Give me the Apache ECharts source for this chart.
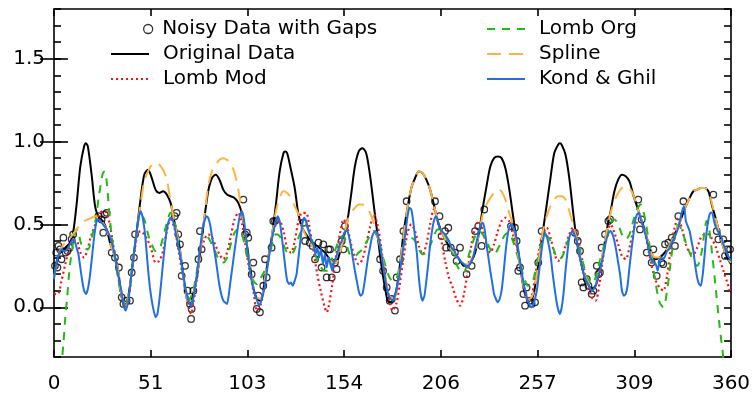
<!DOCTYPE html>
<html><head><meta charset="utf-8">
<script src="https://cdn.jsdelivr.net/npm/echarts@6/dist/echarts.min.js"></script>
<style>html,body{margin:0;padding:0;background:#fff}#c{width:756px;height:396px}</style>
</head><body><div id="c"></div>
<script>
// ---- data ----
const xTickLabels = ['0','51','103','154','206','257','309','360'];
const yTickLabels = ['0.0','0.5','1.0','1.5'];
const seriesNames = ['Noisy Data with Gaps','Original Data','Lomb Mod','Lomb Org','Spline','Kond & Ghil'];

const originalData = [[0,0.2],[2,0.30],[4,0.34],[6,0.36],[8,0.38],[10,0.44],[12,0.62],[14,0.85],[16,0.97],[17,0.99],[18,0.97],[20,0.80],[22,0.60],[24,0.54],[26,0.52],[28,0.47],[30,0.38],[32,0.32],[34,0.23],[36,0.06],[38,-0.01],[40,0.10],[42,0.28],[44,0.46],[46,0.65],[48,0.80],[50,0.83],[52,0.78],[54,0.71],[56,0.69],[58,0.70],[60,0.68],[62,0.63],[64,0.52],[66,0.42],[68,0.26],[70,0.09],[72,0.02],[74,0.08],[76,0.18],[78,0.36],[80,0.54],[82,0.70],[84,0.78],[86,0.80],[88,0.77],[90,0.71],[92,0.68],[94,0.67],[96,0.66],[98,0.63],[100,0.56],[102,0.42],[104,0.27],[106,0.12],[108,0.05],[110,0.04],[112,0.16],[114,0.30],[116,0.44],[118,0.62],[120,0.82],[122,0.93],[123,0.94],[124,0.93],[126,0.83],[128,0.72],[130,0.56],[132,0.48],[134,0.44],[136,0.41],[138,0.38],[140,0.37],[142,0.35],[144,0.33],[146,0.30],[148,0.27],[150,0.27],[152,0.33],[154,0.42],[156,0.52],[158,0.68],[160,0.85],[162,0.94],[164,0.96],[166,0.93],[168,0.80],[170,0.62],[172,0.44],[174,0.26],[176,0.12],[178,0.03],[180,0.04],[182,0.10],[184,0.26],[186,0.46],[188,0.60],[190,0.72],[192,0.78],[194,0.82],[196,0.81],[198,0.77],[200,0.71],[202,0.62],[204,0.52],[206,0.46],[208,0.41],[210,0.37],[212,0.34],[214,0.31],[216,0.28],[218,0.25],[220,0.25],[222,0.28],[224,0.33],[226,0.45],[228,0.60],[230,0.73],[232,0.85],[234,0.90],[236,0.91],[238,0.90],[240,0.84],[242,0.72],[244,0.56],[246,0.40],[248,0.24],[250,0.10],[252,0.05],[254,0.05],[256,0.14],[258,0.30],[260,0.46],[262,0.62],[264,0.78],[266,0.93],[268,0.98],[269,0.99],[270,0.98],[272,0.92],[274,0.78],[276,0.58],[278,0.40],[280,0.28],[282,0.19],[284,0.14],[286,0.11],[288,0.13],[290,0.21],[292,0.33],[294,0.47],[296,0.58],[298,0.70],[300,0.77],[302,0.80],[304,0.79],[306,0.76],[308,0.68],[310,0.61],[312,0.54],[314,0.47],[316,0.39],[318,0.32],[320,0.29],[322,0.30],[324,0.32],[326,0.35],[328,0.39],[330,0.44],[332,0.49],[334,0.55],[336,0.61],[338,0.66],[340,0.70],[342,0.71],[344,0.72],[346,0.72],[348,0.70],[350,0.61],[352,0.53],[354,0.44],[356,0.36],[358,0.30],[360,0.26]];

const splineData = [[0,0.18],[2,0.30],[4,0.36],[6,0.39],[8,0.41],[10,0.44],[12,0.47],[14,0.50],[16,0.52],[18,0.53],[20,0.54],[22,0.55],[24,0.54],[26,0.51],[28,0.47],[30,0.38],[32,0.32],[34,0.23],[36,0.07],[38,0.0],[40,0.10],[42,0.28],[44,0.46],[46,0.62],[48,0.76],[50,0.82],[52,0.86],[54,0.87],[56,0.86],[58,0.83],[60,0.77],[62,0.64],[64,0.52],[66,0.41],[68,0.26],[70,0.09],[72,0.03],[74,0.08],[76,0.18],[78,0.36],[80,0.55],[82,0.73],[84,0.82],[86,0.86],[88,0.89],[90,0.90],[92,0.89],[94,0.87],[96,0.81],[98,0.71],[100,0.57],[102,0.42],[104,0.27],[106,0.12],[108,0.06],[110,0.05],[112,0.16],[114,0.30],[116,0.44],[118,0.58],[120,0.66],[122,0.70],[124,0.69],[126,0.66],[128,0.61],[130,0.56],[132,0.48],[134,0.43],[136,0.39],[138,0.36],[140,0.34],[142,0.32],[144,0.30],[146,0.29],[148,0.27],[150,0.27],[152,0.33],[154,0.42],[156,0.52],[158,0.57],[160,0.60],[162,0.62],[164,0.62],[166,0.61],[168,0.57],[170,0.51],[172,0.43],[174,0.34],[176,0.20],[178,0.08],[180,0.05],[182,0.08],[184,0.25],[186,0.45],[188,0.60],[190,0.72],[192,0.78],[194,0.82],[196,0.81],[198,0.77],[200,0.71],[202,0.62],[204,0.52],[206,0.46],[208,0.41],[210,0.37],[212,0.34],[214,0.31],[216,0.28],[218,0.26],[220,0.26],[222,0.29],[224,0.34],[226,0.45],[228,0.56],[230,0.62],[232,0.66],[234,0.69],[236,0.71],[238,0.70],[240,0.65],[242,0.57],[244,0.50],[246,0.38],[248,0.24],[250,0.11],[252,0.05],[254,0.06],[256,0.14],[258,0.30],[260,0.46],[262,0.55],[264,0.61],[266,0.65],[268,0.67],[270,0.67],[272,0.65],[274,0.58],[276,0.50],[278,0.40],[280,0.29],[282,0.20],[284,0.15],[286,0.12],[288,0.14],[290,0.22],[292,0.34],[294,0.47],[296,0.57],[298,0.64],[300,0.69],[302,0.72],[304,0.73],[306,0.72],[308,0.68],[310,0.61],[312,0.54],[314,0.47],[316,0.39],[318,0.32],[320,0.30],[322,0.30],[324,0.32],[326,0.35],[328,0.39],[330,0.44],[332,0.49],[334,0.55],[336,0.61],[338,0.66],[340,0.70],[342,0.71],[344,0.72],[346,0.72],[348,0.70],[350,0.62],[352,0.53],[354,0.44],[356,0.36],[358,0.30],[360,0.27]];

const lombOrgData = [[0,-1.1],[2,-0.65],[4,-0.35],[5,-0.22],[6,-0.06],[7,0.06],[8,0.20],[9,0.30],[10,0.38],[11,0.44],[12,0.47],[13,0.46],[14,0.40],[16,0.35],[18,0.35],[20,0.42],[22,0.52],[24,0.68],[26,0.81],[27,0.82],[28,0.76],[30,0.50],[32,0.32],[34,0.18],[36,0.06],[38,0.01],[40,0.10],[42,0.28],[44,0.46],[46,0.56],[48,0.53],[50,0.44],[52,0.38],[54,0.34],[56,0.35],[58,0.42],[60,0.51],[62,0.57],[64,0.52],[66,0.40],[68,0.24],[70,0.10],[72,0.05],[74,0.10],[76,0.22],[78,0.38],[80,0.44],[82,0.42],[84,0.38],[86,0.33],[88,0.28],[90,0.27],[92,0.30],[94,0.38],[96,0.45],[98,0.47],[100,0.44],[102,0.34],[104,0.24],[106,0.16],[108,0.14],[110,0.18],[112,0.22],[114,0.28],[116,0.38],[118,0.44],[120,0.43],[122,0.38],[124,0.33],[126,0.32],[128,0.35],[130,0.42],[132,0.47],[134,0.49],[136,0.44],[138,0.36],[140,0.28],[142,0.24],[144,0.22],[146,0.22],[148,0.30],[150,0.36],[152,0.42],[154,0.43],[156,0.36],[158,0.31],[160,0.31],[162,0.33],[164,0.35],[166,0.39],[168,0.43],[170,0.46],[172,0.42],[174,0.34],[176,0.26],[178,0.19],[180,0.16],[182,0.17],[184,0.26],[186,0.38],[188,0.41],[190,0.42],[192,0.40],[194,0.35],[196,0.32],[198,0.33],[200,0.37],[202,0.43],[204,0.47],[206,0.47],[208,0.43],[210,0.38],[212,0.33],[214,0.26],[216,0.22],[218,0.21],[220,0.29],[222,0.37],[224,0.43],[226,0.46],[228,0.44],[230,0.40],[232,0.35],[234,0.32],[236,0.35],[238,0.40],[240,0.44],[242,0.45],[244,0.40],[246,0.33],[248,0.25],[250,0.18],[252,0.13],[254,0.14],[256,0.22],[258,0.33],[260,0.41],[262,0.43],[264,0.40],[266,0.34],[268,0.29],[270,0.30],[272,0.36],[274,0.42],[276,0.45],[278,0.42],[280,0.33],[282,0.24],[284,0.17],[286,0.14],[288,0.18],[290,0.27],[292,0.35],[294,0.44],[296,0.51],[298,0.53],[300,0.50],[302,0.44],[304,0.41],[306,0.44],[308,0.52],[310,0.59],[312,0.62],[314,0.55],[316,0.42],[318,0.28],[320,0.14],[322,0.03],[324,0.0],[326,0.10],[328,0.28],[330,0.44],[332,0.50],[334,0.46],[336,0.39],[338,0.33],[340,0.28],[342,0.25],[344,0.31],[346,0.46],[347,0.52],[348,0.50],[350,0.32],[352,0.10],[354,-0.12],[356,-0.32],[358,-0.7],[360,-1.2]];

const lombModData = [[0,0.08],[2,0.08],[4,0.16],[6,0.26],[8,0.35],[10,0.40],[12,0.40],[14,0.33],[16,0.30],[18,0.36],[20,0.44],[22,0.50],[24,0.56],[26,0.58],[28,0.57],[30,0.48],[32,0.34],[34,0.20],[36,0.06],[38,0.0],[40,0.08],[42,0.26],[44,0.42],[46,0.46],[48,0.44],[50,0.40],[52,0.34],[54,0.27],[56,0.28],[58,0.34],[60,0.46],[62,0.53],[64,0.48],[66,0.36],[68,0.22],[70,0.09],[72,-0.02],[73,-0.04],[74,0.02],[76,0.17],[78,0.32],[80,0.41],[82,0.44],[84,0.42],[86,0.37],[88,0.32],[90,0.29],[92,0.33],[94,0.43],[96,0.53],[98,0.57],[100,0.50],[102,0.36],[104,0.22],[106,0.10],[108,-0.02],[110,0.02],[112,0.14],[114,0.30],[116,0.42],[118,0.50],[120,0.52],[122,0.46],[124,0.36],[126,0.33],[128,0.40],[130,0.52],[132,0.57],[134,0.57],[136,0.47],[138,0.34],[140,0.20],[142,0.09],[144,0.00],[145,-0.03],[146,0.0],[148,0.14],[150,0.31],[152,0.44],[154,0.53],[156,0.48],[158,0.38],[160,0.30],[162,0.26],[164,0.29],[166,0.38],[168,0.48],[170,0.56],[172,0.50],[174,0.36],[176,0.20],[178,0.07],[180,-0.02],[182,0.02],[184,0.15],[186,0.31],[188,0.45],[190,0.50],[192,0.46],[194,0.37],[196,0.32],[198,0.38],[200,0.50],[202,0.59],[204,0.52],[206,0.40],[208,0.28],[210,0.18],[212,0.12],[214,0.05],[216,0.01],[218,0.08],[220,0.22],[222,0.38],[224,0.48],[226,0.52],[228,0.46],[230,0.38],[232,0.33],[234,0.38],[236,0.46],[238,0.52],[240,0.54],[242,0.52],[244,0.44],[246,0.37],[248,0.26],[250,0.12],[252,0.04],[254,0.07],[256,0.20],[258,0.35],[260,0.45],[262,0.48],[264,0.42],[266,0.33],[268,0.28],[270,0.30],[272,0.37],[274,0.44],[276,0.48],[278,0.45],[280,0.34],[282,0.22],[284,0.13],[286,0.06],[288,0.04],[290,0.14],[292,0.30],[294,0.45],[296,0.50],[298,0.45],[300,0.38],[302,0.31],[304,0.29],[306,0.36],[308,0.46],[310,0.51],[312,0.51],[314,0.46],[316,0.35],[318,0.24],[320,0.16],[322,0.12],[324,0.10],[326,0.19],[328,0.36],[330,0.48],[332,0.54],[334,0.47],[336,0.38],[338,0.33],[340,0.32],[342,0.36],[344,0.42],[346,0.44],[348,0.44],[350,0.41],[352,0.36],[354,0.29],[356,0.22],[358,0.15],[360,0.08]];

const kondGhilData = [[0,0.17],[1,0.25],[2,0.30],[3,0.33],[4,0.35],[5,0.34],[6,0.34],[7,0.35],[8,0.37],[9,0.39],[10,0.41],[11,0.40],[12,0.36],[13,0.32],[14,0.24],[15,0.16],[16,0.10],[17,0.08],[18,0.11],[19,0.18],[20,0.28],[21,0.39],[22,0.48],[23,0.53],[24,0.53],[26,0.50],[28,0.47],[30,0.42],[32,0.33],[34,0.20],[36,0.09],[37,0.01],[38,-0.02],[39,0.01],[40,0.08],[42,0.28],[44,0.46],[45,0.54],[46,0.58],[47,0.55],[48,0.48],[49,0.37],[50,0.23],[51,0.12],[52,0.04],[53,-0.02],[54,-0.06],[55,-0.04],[56,0.04],[57,0.15],[58,0.27],[59,0.38],[60,0.47],[61,0.52],[62,0.54],[63,0.53],[64,0.49],[66,0.38],[68,0.25],[70,0.11],[72,0.02],[73,0.01],[74,0.05],[76,0.20],[78,0.38],[79,0.47],[80,0.52],[81,0.55],[82,0.54],[83,0.50],[84,0.43],[86,0.29],[88,0.13],[90,0.04],[92,0.02],[93,0.08],[94,0.17],[96,0.34],[98,0.50],[99,0.56],[100,0.58],[101,0.53],[102,0.43],[104,0.24],[106,0.11],[108,0.04],[109,0.01],[110,0.03],[112,0.12],[114,0.28],[116,0.42],[118,0.52],[119,0.55],[120,0.52],[121,0.44],[122,0.34],[123,0.24],[124,0.16],[125,0.14],[126,0.15],[127,0.13],[128,0.16],[129,0.20],[130,0.30],[131,0.40],[132,0.50],[133,0.54],[134,0.52],[135,0.48],[136,0.44],[137,0.40],[138,0.38],[139,0.32],[140,0.36],[141,0.30],[142,0.35],[143,0.26],[144,0.32],[145,0.24],[146,0.30],[147,0.26],[148,0.22],[149,0.28],[150,0.30],[151,0.34],[152,0.38],[153,0.40],[154,0.44],[155,0.46],[156,0.46],[157,0.42],[158,0.36],[159,0.29],[160,0.22],[161,0.16],[162,0.10],[163,0.07],[164,0.08],[165,0.14],[166,0.22],[167,0.30],[168,0.36],[169,0.42],[170,0.45],[171,0.46],[172,0.44],[173,0.40],[174,0.33],[175,0.25],[176,0.18],[177,0.11],[178,0.07],[179,0.05],[180,0.04],[181,0.06],[182,0.10],[183,0.16],[184,0.22],[185,0.30],[186,0.38],[187,0.46],[188,0.55],[189,0.60],[190,0.59],[191,0.52],[192,0.42],[193,0.32],[194,0.18],[195,0.08],[196,0.04],[197,0.07],[198,0.16],[199,0.26],[200,0.38],[201,0.46],[202,0.52],[203,0.55],[204,0.53],[205,0.48],[206,0.46],[207,0.45],[208,0.44],[209,0.42],[210,0.40],[211,0.37],[212,0.35],[213,0.34],[214,0.31],[215,0.30],[216,0.28],[217,0.27],[218,0.26],[219,0.25],[220,0.24],[221,0.26],[222,0.28],[223,0.31],[224,0.36],[225,0.41],[226,0.46],[227,0.50],[228,0.51],[229,0.47],[230,0.38],[231,0.30],[232,0.22],[233,0.15],[234,0.08],[235,0.05],[236,0.03],[237,0.05],[238,0.10],[239,0.20],[240,0.32],[241,0.42],[242,0.48],[243,0.50],[244,0.49],[245,0.46],[246,0.41],[247,0.34],[248,0.26],[249,0.19],[250,0.13],[251,0.08],[252,0.04],[253,0.01],[254,0.0],[255,0.02],[256,0.06],[257,0.12],[258,0.22],[259,0.32],[260,0.40],[261,0.45],[262,0.43],[263,0.38],[264,0.32],[265,0.22],[266,0.13],[267,0.05],[268,-0.01],[269,-0.04],[270,0.00],[271,0.09],[272,0.22],[273,0.33],[274,0.42],[275,0.45],[276,0.46],[277,0.43],[278,0.40],[279,0.34],[280,0.29],[281,0.23],[282,0.19],[283,0.16],[284,0.14],[285,0.12],[286,0.10],[287,0.11],[288,0.13],[289,0.17],[290,0.21],[291,0.26],[292,0.31],[293,0.37],[294,0.42],[295,0.45],[296,0.46],[297,0.44],[298,0.40],[299,0.34],[300,0.27],[301,0.20],[302,0.10],[303,0.07],[304,0.08],[305,0.13],[306,0.24],[307,0.34],[308,0.43],[309,0.52],[310,0.56],[311,0.57],[312,0.53],[313,0.50],[314,0.46],[315,0.42],[316,0.36],[317,0.31],[318,0.28],[319,0.27],[320,0.26],[321,0.22],[322,0.28],[323,0.30],[324,0.29],[325,0.31],[326,0.34],[327,0.35],[328,0.38],[329,0.40],[330,0.42],[331,0.45],[332,0.48],[333,0.53],[334,0.58],[335,0.61],[336,0.52],[337,0.49],[338,0.46],[339,0.40],[340,0.34],[341,0.25],[342,0.18],[343,0.14],[344,0.13],[345,0.20],[346,0.32],[347,0.45],[348,0.53],[349,0.57],[350,0.57],[351,0.52],[352,0.48],[353,0.46],[354,0.44],[355,0.42],[356,0.38],[357,0.35],[358,0.32],[359,0.30],[360,0.28]];

const noisyData = [[0.5,0.25],[1.2,0.33],[1.8,0.24],[2.4,0.37],[3.2,0.35],[4.0,0.29],[5.0,0.42],[6.2,0.33],[7.2,0.34],[8.3,0.36],[9.4,0.41],[10.2,0.44],
[23.6,0.55],[25.3,0.53],[26.2,0.45],[27.0,0.56],[28.0,0.57],[30.7,0.33],[32.4,0.30],[34.5,0.24],[36.0,0.06],[36.9,0.02],[38.6,0.04],[40.4,0.04],[41.3,0.21],[42.5,0.30],[43.1,0.44],
[64.2,0.55],[65.2,0.57],[66.1,0.44],[67.0,0.38],[67.9,0.19],[69.7,0.25],[71.0,0.10],[72.3,0.02],[72.9,-0.07],[73.2,-0.01],[74.1,0.10],[76.8,0.29],[77.6,0.46],[78.5,0.35],
[100.7,0.65],[101.6,0.44],[102.5,0.45],[103.3,0.42],[105.1,0.20],[106.0,0.27],[107.8,-0.01],[108.7,0.07],[109.5,-0.03],[111.3,0.13],[112.2,0.29],[113.1,0.18],[115.7,0.36],[116.6,0.52],[117.5,0.52],
[132.6,0.51],[133.5,0.40],[136.0,0.39],[137.5,0.37],[138.8,0.29],[140.6,0.39],[142.3,0.24],[143.2,0.38],[145.0,0.18],[145.9,0.35],[146.8,0.35],[147.7,0.18],[149.4,0.27],[150.3,0.23],[153.0,0.40],[153.9,0.35],[154.7,0.49],
[173.4,0.29],[175.0,0.22],[176.9,0.12],[178.5,0.04],[179.6,0.05],[181.3,-0.02],[182.2,0.18],[184.0,0.29],[185.8,0.46],[187.5,0.64],
[202.6,0.64],[205.0,0.55],[206.1,0.43],[207.9,0.46],[208.5,0.36],[209.7,0.48],[211.0,0.36],[213.2,0.33],[214.1,0.28],[215.9,0.36],[219.4,0.20],[222.1,0.25],[223.9,0.46],[225.6,0.49],[227.4,0.37],[228.8,0.59],
[243.0,0.49],[245.1,0.48],[246.0,0.40],[246.9,0.22],[247.8,0.24],[249.6,0.08],[250.5,0.01],[251.3,0.12],[253.1,0.04],[254.0,0.02],[255.8,0.03],[257.5,0.27],[259.3,0.46],
[277.0,0.45],[278.5,0.40],[279.7,0.34],[280.6,0.15],[281.5,0.12],[283.3,0.17],[284.2,0.13],[285.9,0.08],[286.8,0.10],[288.6,0.25],[289.5,0.20],[290.3,0.21],[291.2,0.36],[293.0,0.44],[294.8,0.52],[295.7,0.53],
[310.7,0.65],[311.6,0.47],[312.5,0.53],[315.2,0.33],[317.8,0.27],[318.7,0.35],[320.5,0.19],[323.1,0.27],[324.0,0.26],[324.9,0.38],[326.7,0.39],[328.5,0.42],[330.2,0.37],[332.0,0.55],[334.7,0.64],
[350.6,0.68],[352.4,0.46],[353.3,0.41],[355.9,0.41],[356.8,0.31],[358.0,0.35],[359.5,0.35]];

// ---- chart ----
const FONT = 'DejaVu Sans';
const XMIN = 0, XMAX = 360, XSTEP = 360 / 7;
const YMIN = -0.3, YMAX = 1.8;
const YMAJOR = [0, 0.5, 1.0, 1.5];
const axisLineStyle = {color: '#000', width: 1.6};
const txt = {fontFamily: FONT, fontSize: 20, fontWeight: 'normal', color: '#000'};

const chart = echarts.init(document.getElementById('c'), null, {renderer: 'canvas'});

function xAxisCfg(pos, showLabel) {
  return {
    type: 'value', position: pos, min: XMIN, max: XMAX, interval: XSTEP,
    axisLine: {show: true, onZero: false, lineStyle: axisLineStyle},
    axisTick: {show: true, inside: true, length: 7, lineStyle: axisLineStyle},
    axisLabel: showLabel ? Object.assign({
      margin: 17,
      formatter: v => {
        const i = Math.round(v / XSTEP);
        return xTickLabels[i] !== undefined ? xTickLabels[i] : '';
      }
    }, txt) : {show: false},
    splitLine: {show: false}
  };
}
function yMinorCfg(pos, showLabel) {
  return {
    type: 'value', position: pos, min: YMIN, max: YMAX, interval: 0.1,
    axisLine: {show: true, onZero: false, lineStyle: axisLineStyle},
    axisTick: {show: true, inside: true, length: 7, lineStyle: axisLineStyle},
    axisLabel: showLabel ? Object.assign({
      margin: 9,
      formatter: v => {
        const r = Math.round(v * 10);
        if (r < 0 || r % 5 !== 0) return '';
        const idx = YMAJOR.indexOf(r / 10);
        return idx >= 0 ? yTickLabels[idx] : '';
      }
    }, txt) : {show: false},
    splitLine: {show: false}
  };
}
function yMajorCfg(pos) {
  return {
    type: 'value', position: pos, min: YMIN, max: YMAX,
    axisLine: {show: false},
    axisTick: {show: true, inside: true, length: 14, customValues: YMAJOR, lineStyle: axisLineStyle},
    axisLabel: {show: false},
    splitLine: {show: false}
  };
}

const lineBase = {type: 'line', xAxisIndex: 0, yAxisIndex: 0, symbol: 'none', showSymbol: false, smooth: 0.3, clip: true, animation: false};
const legendText = Object.assign({lineHeight: 20, padding: [0, 0, 0, 9]}, txt);

chart.setOption({
  animation: false,
  backgroundColor: '#fff',
  grid: {left: 54, right: 25, top: 9, bottom: 39},
  xAxis: [xAxisCfg('bottom', true), xAxisCfg('top', false)],
  yAxis: [yMinorCfg('left', true), yMajorCfg('left'), yMinorCfg('right', false), yMajorCfg('right')],
  legend: [
    {data: [seriesNames[0]], left: 143, top: 19, orient: 'vertical', padding: 0, itemWidth: 10, itemHeight: 9, itemGap: 5,
     selectedMode: false, itemStyle: {borderColor: '#000', borderWidth: 1.3},
     textStyle: Object.assign({lineHeight: 20, padding: [0, 0, 0, 4]}, txt)},
    {data: [seriesNames[1], seriesNames[2]], left: 110, top: 44, orient: 'vertical', padding: 0, itemWidth: 38, itemHeight: 14, itemGap: 5,
     selectedMode: false, itemStyle: {opacity: 0}, textStyle: legendText},
    {data: [seriesNames[3], seriesNames[4], seriesNames[5]], left: 486, top: 19, orient: 'vertical', padding: 0, itemWidth: 38, itemHeight: 14, itemGap: 5,
     selectedMode: false, itemStyle: {opacity: 0}, textStyle: legendText}
  ],
  series: [
    Object.assign({}, lineBase, {name: seriesNames[1], data: originalData, lineStyle: {color: '#000', width: 2}, itemStyle: {color: '#000'}}),
    Object.assign({}, lineBase, {name: seriesNames[2], data: lombModData, lineStyle: {color: '#ff1010', width: 2.2, type: [2, 3]}, itemStyle: {color: '#ff1010'}}),
    Object.assign({}, lineBase, {name: seriesNames[3], data: lombOrgData, lineStyle: {color: '#22bb11', width: 2, type: [8, 7]}, itemStyle: {color: '#22bb11'}}),
    Object.assign({}, lineBase, {name: seriesNames[4], data: splineData, lineStyle: {color: '#ffb240', width: 2, type: [14, 8]}, itemStyle: {color: '#ffb240'}}),
    Object.assign({}, lineBase, {name: seriesNames[5], data: kondGhilData, smooth: 0.15, lineStyle: {color: '#1f6fe5', width: 2}, itemStyle: {color: '#1f6fe5'}}),
    {type: 'scatter', name: seriesNames[0], data: noisyData, xAxisIndex: 0, yAxisIndex: 0, symbol: 'circle', symbolSize: 6.5,
     itemStyle: {color: 'rgba(255,255,255,0)', borderColor: '#000', borderWidth: 1.3}, animation: false}
  ]
});
</script>
</body></html>
